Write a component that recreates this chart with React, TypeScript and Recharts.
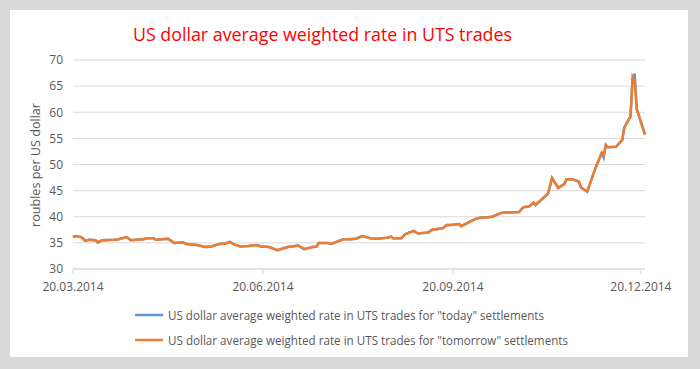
import { LineChart, Line, XAxis, YAxis, CartesianGrid, Legend } from "recharts";

const chartTitle = "US dollar average weighted rate in UTS trades";
const yAxisTitle = "roubles per US dollar";
const todayName = 'US dollar average weighted rate in UTS trades for "today" settlements';
const tomorrowName = 'US dollar average weighted rate in UTS trades for "tomorrow" settlements';

const tickLabels = ["20.03.2014", "20.06.2014", "20.09.2014", "20.12.2014"];
const yTicks = [30, 35, 40, 45, 50, 55, 60, 65, 70];

// trade dates
const dates = [
  "20.03.2014", "21.03.2014", "24.03.2014", "26.03.2014", "28.03.2014", "31.03.2014",
  "01.04.2014", "03.04.2014", "09.04.2014", "11.04.2014", "15.04.2014", "17.04.2014",
  "23.04.2014", "25.04.2014", "28.04.2014", "29.04.2014", "05.05.2014", "08.05.2014",
  "12.05.2014", "14.05.2014", "19.05.2014", "23.05.2014", "26.05.2014", "30.05.2014",
  "02.06.2014", "04.06.2014", "06.06.2014", "09.06.2014", "13.06.2014", "17.06.2014",
  "19.06.2014", "23.06.2014", "27.06.2014", "02.07.2014", "04.07.2014", "07.07.2014",
  "10.07.2014", "14.07.2014", "16.07.2014", "17.07.2014", "21.07.2014", "23.07.2014",
  "25.07.2014", "29.07.2014", "01.08.2014", "04.08.2014", "07.08.2014", "11.08.2014",
  "14.08.2014", "19.08.2014", "21.08.2014", "22.08.2014", "26.08.2014", "28.08.2014",
  "01.09.2014", "03.09.2014", "08.09.2014", "10.09.2014", "15.09.2014", "17.09.2014",
  "19.09.2014", "23.09.2014", "24.09.2014", "29.09.2014", "01.10.2014", "03.10.2014",
  "07.10.2014", "09.10.2014", "13.10.2014", "15.10.2014", "22.10.2014", "24.10.2014",
  "27.10.2014", "29.10.2014", "30.10.2014", "05.11.2014", "07.11.2014", "10.11.2014",
  "13.11.2014", "14.11.2014", "17.11.2014", "20.11.2014", "21.11.2014", "24.11.2014",
  "28.11.2014", "01.12.2014", "02.12.2014", "03.12.2014", "04.12.2014", "08.12.2014",
  "11.12.2014", "12.12.2014", "15.12.2014", "16.12.2014", "17.12.2014", "18.12.2014",
  "22.12.2014",
];

const todayRates = [
  36.1, 36.3, 36.1, 35.4, 35.6, 35.5,
  35.1, 35.5, 35.6, 35.7, 36.1, 35.5,
  35.7, 35.9, 35.9, 35.6, 35.8, 35.0,
  35.1, 34.8, 34.6, 34.2, 34.3, 34.8,
  34.9, 35.2, 34.7, 34.3, 34.4, 34.6,
  34.3, 34.2, 33.6, 34.2, 34.3, 34.5,
  33.8, 34.2, 34.3, 35.0, 35.0, 34.8,
  35.1, 35.7, 35.7, 35.8, 36.3, 35.9,
  35.8, 36.0, 36.2, 35.9, 35.9, 36.7,
  37.3, 36.8, 37.0, 37.5, 37.8, 38.4,
  38.4, 38.6, 38.2, 39.2, 39.6, 39.8,
  39.9, 40.0, 40.7, 40.8, 40.9, 41.8,
  42.0, 42.7, 42.2, 44.4, 47.4, 45.5,
  46.3, 47.2, 47.2, 46.7, 45.6, 44.8,
  49.3, 52.2, 51.3, 53.8, 53.3, 53.4,
  54.7, 57.1, 59.2, 66.4, 67.4, 60.6,
  55.7,
];

const tomorrowRates = [
  36.1, 36.3, 36.1, 35.4, 35.6, 35.5,
  35.1, 35.5, 35.6, 35.7, 36.1, 35.5,
  35.7, 35.9, 35.9, 35.6, 35.8, 35.0,
  35.1, 34.8, 34.6, 34.2, 34.3, 34.8,
  34.9, 35.2, 34.7, 34.3, 34.4, 34.6,
  34.3, 34.2, 33.6, 34.2, 34.3, 34.5,
  33.8, 34.2, 34.3, 35.0, 35.0, 34.8,
  35.1, 35.7, 35.7, 35.8, 36.3, 35.9,
  35.8, 36.0, 36.2, 35.9, 35.9, 36.7,
  37.3, 36.8, 37.0, 37.5, 37.8, 38.4,
  38.4, 38.6, 38.2, 39.2, 39.6, 39.8,
  39.9, 40.0, 40.7, 40.8, 40.9, 41.8,
  42.0, 42.7, 42.3, 44.4, 47.4, 45.5,
  46.3, 47.2, 47.2, 46.7, 45.6, 44.8,
  49.3, 52.2, 51.8, 53.7, 53.3, 53.4,
  54.7, 57.1, 59.2, 66.8, 66.2, 60.6,
  55.7,
];

const toDay = (s: string) => {
  const [d, m, y] = s.split(".").map(Number);
  const [d0, m0, y0] = tickLabels[0].split(".").map(Number);
  return (Date.UTC(y, m - 1, d) - Date.UTC(y0, m0 - 1, d0)) / 86400000;
};

const data = dates.map((date, i) => ({
  day: toDay(date),
  today: todayRates[i],
  tomorrow: tomorrowRates[i],
}));

const xTicks = tickLabels.map(toDay);

const GREY = "#595959";
const FONT = "'Open Sans', sans-serif";

const legendWidths = [376, 400];

const renderLegend = (props: any) => {
  const payload = props.payload || [];
  return (
    <svg width={700} height={60} style={{ display: "block" }}>
      {payload.map((entry: any, i: number) => {
        const y = 25 + i * 25;
        return (
          <g key={i}>
            <line x1={135} x2={163} y1={y} y2={y} stroke={entry.color} strokeWidth={2.5} />
            <text
              x={168}
              y={y + 4.5}
              fontSize={12.5}
              fontFamily={FONT}
              fill={GREY}
              textLength={legendWidths[i]}
              lengthAdjust="spacingAndGlyphs"
            >
              {entry.value}
            </text>
          </g>
        );
      })}
    </svg>
  );
};

export default function App() {
  const tickStyle = { fill: GREY, fontSize: 12, fontFamily: FONT };
  return (
    <div style={{ position: "absolute", left: 0, top: 0, width: 700, height: 369, background: "#d9d9d9" }}>
      <div style={{ position: "absolute", left: 10, top: 10, width: 678, height: 347, background: "#fff" }} />
      <div style={{ position: "absolute", left: 0, top: 0 }}>
        <LineChart width={700} height={369} data={data} margin={{ top: 60, right: 55, bottom: 0, left: 0 }}>
          <CartesianGrid vertical={false} stroke="#d9d9d9" />
          <XAxis
            dataKey="day"
            type="number"
            domain={["dataMin", "dataMax"]}
            ticks={xTicks}
            tickFormatter={(v: number) => tickLabels[xTicks.indexOf(v)] ?? ""}
            height={40}
            stroke="#d9d9d9"
            tickSize={5}
            tickMargin={8}
            tick={tickStyle}
            interval={0}
          />
          <YAxis
            type="number"
            domain={[30, 70]}
            ticks={yTicks}
            width={73}
            axisLine={false}
            tickLine={false}
            tickSize={6}
            tickMargin={4}
            tick={tickStyle}
            interval={0}
          />
          <Legend
            verticalAlign="bottom"
            align="center"
            height={60}
            content={renderLegend}
            wrapperStyle={{ left: 0, top: 290, bottom: "auto", width: 700 }}
          />
          <Line
            type="linear"
            dataKey="today"
            name={todayName}
            stroke="#5b9bd5"
            strokeWidth={2.5}
            dot={false}
            isAnimationActive={false}
          />
          <Line
            type="linear"
            dataKey="tomorrow"
            name={tomorrowName}
            stroke="#ed7d31"
            strokeWidth={2.5}
            dot={false}
            isAnimationActive={false}
          />
        </LineChart>
      </div>
      <svg width={700} height={369} style={{ position: "absolute", left: 0, top: 0, pointerEvents: "none" }}>
        <text
          x={133}
          y={41}
          fontSize={19}
          fontFamily={FONT}
          fill="#ff0000"
          textLength={379}
          lengthAdjust="spacingAndGlyphs"
        >
          {chartTitle}
        </text>
        <text
          transform="translate(40, 165) rotate(-90)"
          textAnchor="middle"
          fontSize={13}
          fontFamily={FONT}
          fill={GREY}
          textLength={124}
          lengthAdjust="spacingAndGlyphs"
        >
          {yAxisTitle}
        </text>
      </svg>
    </div>
  );
}
